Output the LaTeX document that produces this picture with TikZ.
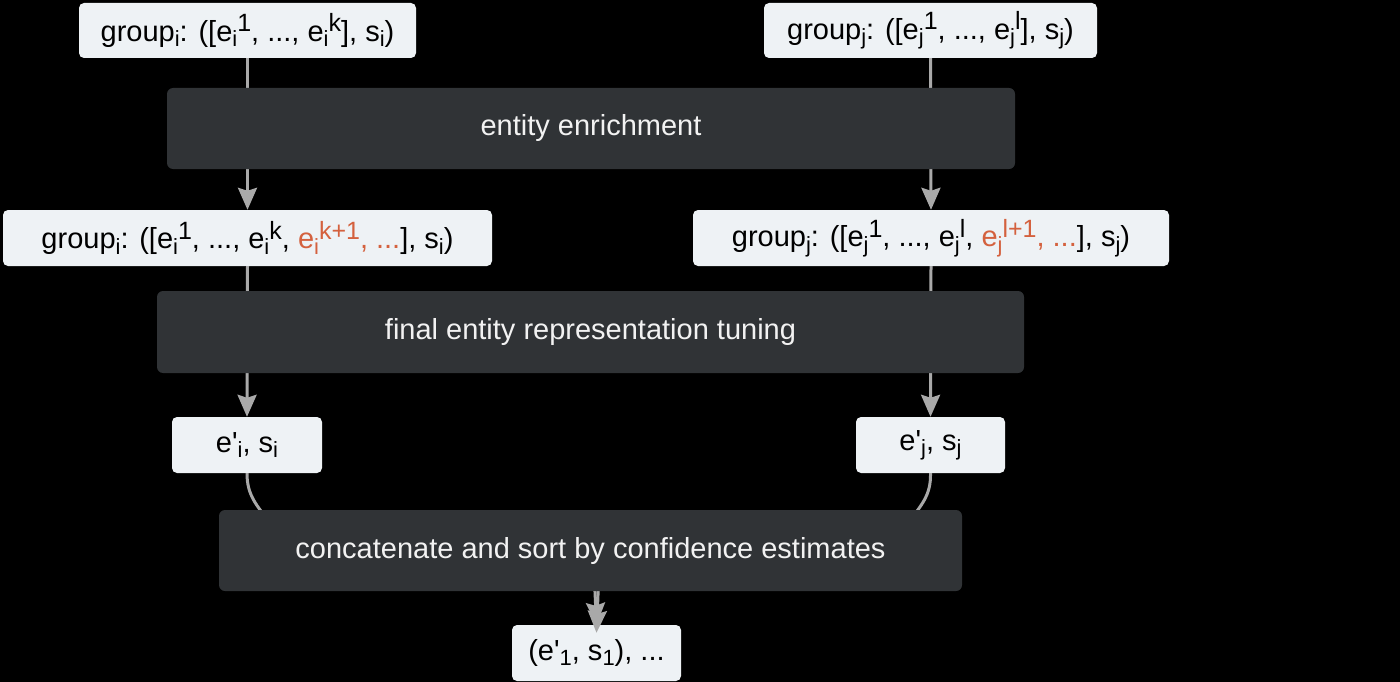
\documentclass[tikz,border=0pt]{standalone}
\usepackage{fontspec}
\setmainfont{Liberation Sans}[Ligatures=TeXOff]
\usetikzlibrary{arrows.meta}
\definecolor{bgc}{HTML}{000000}
\definecolor{lightc}{HTML}{EEF2F5}
\definecolor{darkc}{HTML}{303336}
\definecolor{redc}{HTML}{D4613E}
\definecolor{linec}{HTML}{A9A9A9}
\definecolor{whitetext}{HTML}{F2F2F2}
\newcommand\sbs[1]{\raisebox{-0.35ex}{\fontsize{22}{22}\selectfont #1}}
\newcommand\sps[1]{\raisebox{0.6ex}{\fontsize{25}{25}\selectfont #1}}
\newcommand\apos{'}
\tikzset{
  lightbox/.style={fill=lightc, rounded corners=5pt, minimum height=55pt, text=black, inner sep=0pt, font=\fontsize{29}{34}\selectfont},
  darkbox/.style={fill=darkc, rounded corners=6pt, minimum height=81pt, text=whitetext, inner sep=0pt, font=\fontsize{29}{34}\selectfont},
  conn/.style={draw=linec, line width=3pt, -{Stealth[length=22pt,width=19pt,inset=3pt]}, line join=round}
}
\begin{document}
\begin{tikzpicture}[x=1pt,y=-1pt]
\fill[bgc] (0,0) rectangle (1400,682);
\useasboundingbox (0,0) rectangle (1400,682);
% light nodes
\node[lightbox, minimum width=337pt] (gi) at (247.5,30.5) {group\sbs{i}: ([e\sbs{i}\sps{1}, ..., e\sbs{i}\sps{k}], s\sbs{i})};
\node[lightbox, minimum width=333pt] (gj) at (930.5,30.5) {group\sbs{j}: ([e\sbs{j}\sps{1}, ..., e\sbs{j}\sps{l}], s\sbs{j})};
\node[lightbox, minimum width=489pt, minimum height=56pt] (gi2) at (247.5,238) {group\sbs{i}: ([e\sbs{i}\sps{1}, ..., e\sbs{i}\sps{k}, \textcolor{redc}{e\sbs{i}\sps{k+1}, ...}], s\sbs{i})};
\node[lightbox, minimum width=476pt, minimum height=56pt] (gj2) at (931,238) {group\sbs{j}: ([e\sbs{j}\sps{1}, ..., e\sbs{j}\sps{l}, \textcolor{redc}{e\sbs{j}\sps{l+1}, ...}], s\sbs{j})};
\node[lightbox, minimum width=150pt, minimum height=56pt] (ei) at (247,445) {e\apos\sbs{i}, s\sbs{i}};
\node[lightbox, minimum width=149pt, minimum height=56pt] (ej) at (930.5,445) {e\apos\sbs{j}, s\sbs{j}};
\node[lightbox, minimum width=169pt, minimum height=56pt] (last) at (596.5,653) {(e\apos\sbs{1}, s\sbs{1}), ...};
% connectors (drawn before dark boxes, which hide their middle parts)
\draw[conn] (gi.south) -- (gi2.north);
\draw[conn] (gj.south) -- (gj2.north);
\draw[conn] (gi2.south) -- (ei.north);
\draw[conn] (gj2.south) -- (ej.north);
\coordinate (cl) at (594,570);
\coordinate (cr) at (599,570);
\draw[conn] (ei.south) .. controls (247,495) and (256,505) .. (272,525) -- (cl) -- (last.north);
\draw[conn] (ej.south) .. controls (931,495) and (922,505) .. (906,525) -- (cr) -- ([yshift=-8pt]last.north);
% dark nodes
\node[darkbox, minimum width=848pt] (enrich) at (591,128.5) {entity enrichment};
\node[darkbox, minimum width=867pt, minimum height=82pt] (tune) at (590.5,332) {final entity representation tuning};
\node[darkbox, minimum width=743pt] (concat) at (590.5,550.5) {concatenate and sort by confidence estimates};
\end{tikzpicture}
\end{document}
